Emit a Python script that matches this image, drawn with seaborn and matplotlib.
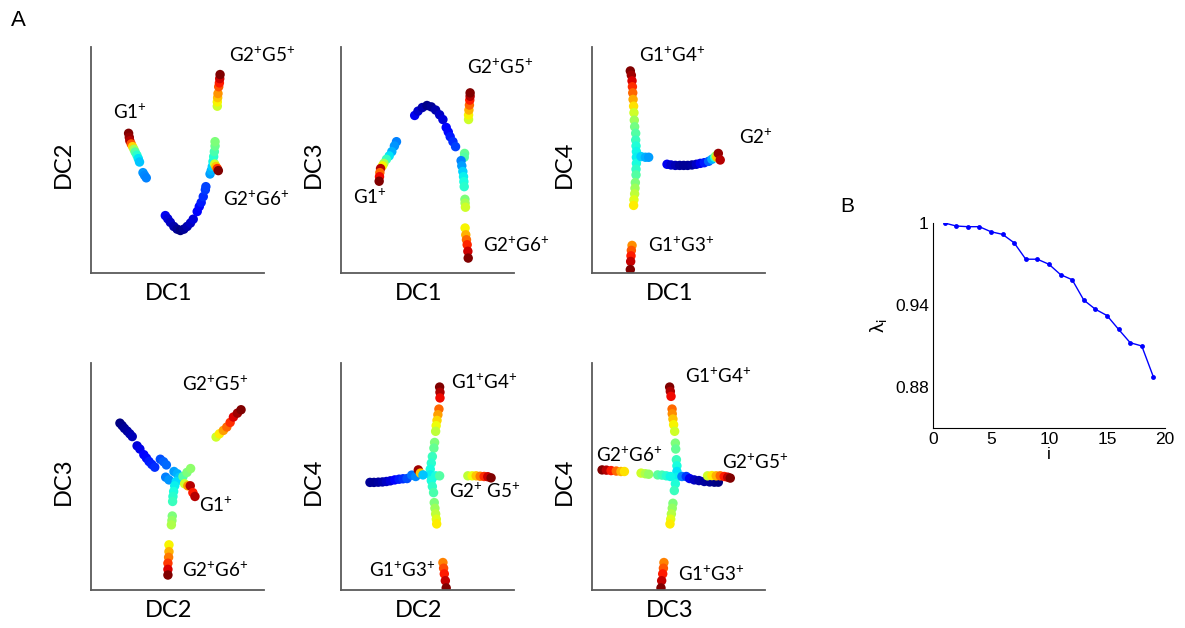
import numpy as np
import pandas as pd
import matplotlib
matplotlib.use("Agg")
import matplotlib.pyplot as plt
import seaborn as sns

# ---------------- data ----------------
# Panel 1: DC1 vs DC2
p1_x = [21.7, 22.1, 22.4, 23.2, 24.0, 24.8, 25.5, 26.5, 27.3, 28.0, 30.0, 30.9, 31.9,
        42.9, 44.3, 45.8, 47.8, 49.7, 51.6, 53.6, 55.5, 57.4, 59.0,
        61.3, 62.5, 63.6, 64.8, 66.0, 66.3,
        68.7, 69.4, 70.0, 70.4, 70.8, 71.2, 71.6, 71.6,
        71.4, 72.1, 72.9, 73.5,
        72.9, 72.9, 73.1, 73.3, 73.7, 74.1, 74.3, 74.5]
p1_y = [61.8, 60.0, 58.5, 57.1, 55.9, 54.7, 53.5, 52.1, 50.6, 49.1, 44.4, 43.2, 42.1,
        25.4, 24.0, 22.4, 20.6, 19.4, 18.8, 19.4, 20.6, 22.1, 23.8,
        27.2, 29.4, 31.2, 33.8, 36.8, 38.2,
        43.8, 45.3, 47.1, 49.3, 51.5, 53.7, 56.2, 58.1,
        48.2, 47.1, 46.2, 45.3,
        73.8, 75.7, 77.6, 79.4, 82.4, 84.1, 86.0, 87.8]
p1_c = [1.0, 0.98, 0.95, 0.82, 0.68, 0.55, 0.45, 0.40, 0.35, 0.32, 0.27, 0.26, 0.25,
        0.10, 0.08, 0.06, 0.04, 0.02, 0.0, 0.02, 0.04, 0.06, 0.08,
        0.12, 0.13, 0.15, 0.17, 0.18, 0.19,
        0.28, 0.30, 0.33, 0.37, 0.40, 0.44, 0.48, 0.50,
        0.60, 0.70, 0.85, 1.0,
        0.60, 0.65, 0.70, 0.75, 0.82, 0.88, 0.93, 1.0]

# Panel 2: DC1 vs DC3
p2_x = [32.0, 30.8, 29.3, 27.8, 26.2, 24.7, 23.9, 22.8, 22.4, 22.2, 22.0,
        42.5, 44.4, 46.9, 49.6, 52.1, 54.6, 56.9, 58.8, 60.7, 61.9, 63.0, 64.6, 66.1,
        71.3, 71.1, 69.3, 69.7, 70.3, 70.7, 70.9, 71.1, 71.5, 71.6, 71.8,
        71.6, 72.0, 72.4, 72.8, 73.2, 73.4,
        73.6, 73.6, 73.8, 74.1, 74.3, 74.5, 74.5]
p2_y = [58.1, 56.2, 53.7, 51.8, 50.3, 48.5, 47.4, 46.2, 44.4, 42.6, 40.6,
        69.7, 71.6, 73.2, 74.1, 73.5, 72.1, 70.0, 67.9, 64.4, 62.4, 60.3, 58.1, 55.9,
        52.9, 51.2, 49.7, 47.4, 44.9, 42.6, 40.4, 38.2, 32.6, 30.9, 29.1,
        19.9, 16.9, 14.7, 12.5, 9.6, 6.6,
        67.9, 69.9, 72.1, 74.3, 76.5, 78.2, 79.7]
p2_c = [0.25, 0.27, 0.30, 0.35, 0.42, 0.55, 0.65, 0.95, 0.80, 0.90, 1.0,
        0.10, 0.07, 0.04, 0.01, 0.02, 0.04, 0.06, 0.08, 0.11, 0.13, 0.15, 0.17, 0.19,
        0.47, 0.45, 0.25, 0.28, 0.33, 0.36, 0.38, 0.40, 0.50, 0.55, 0.60,
        0.65, 0.72, 0.80, 0.87, 0.93, 1.0,
        0.60, 0.65, 0.72, 0.80, 0.88, 0.95, 1.0]

# Panel 3: DC1 vs DC4
p3_x = [22.1, 22.7, 23.1, 23.3, 23.5, 23.7, 24.0, 24.2, 24.4, 24.6, 25.2, 25.2, 25.4, 25.6,
        25.6, 25.6, 25.4, 25.4, 25.0, 24.8, 24.6, 24.2, 24.0,
        28.3, 30.8, 32.7,
        23.1, 22.7, 22.5, 22.3, 22.1,
        43.3, 45.6, 48.1, 50.6, 52.9, 55.2, 57.7, 60.2, 62.5, 64.8, 67.3, 69.2, 70.8,
        71.5, 72.1, 72.9, 74.0]
p3_y = [89.4, 87.5, 85.0, 82.4, 79.7, 76.8, 73.8, 70.9, 67.6, 64.7, 61.8, 58.8, 56.2, 53.7,
        51.2, 48.5, 45.9, 43.4, 40.0, 37.5, 35.0, 32.4, 29.9,
        51.5, 51.2, 51.2,
        12.2, 10.0, 7.6, 5.1, 1.5,
        48.1, 47.8, 47.6, 47.6, 47.6, 47.6, 47.8, 48.1, 48.5, 48.8, 49.4, 50.3, 51.2,
        51.8, 51.2, 52.9, 50.0]
p3_c = [1.0, 0.97, 0.92, 0.86, 0.80, 0.73, 0.67, 0.60, 0.54, 0.49, 0.45, 0.42, 0.39, 0.37,
        0.36, 0.38, 0.41, 0.45, 0.50, 0.54, 0.58, 0.62, 0.66,
        0.33, 0.30, 0.28,
        0.76, 0.82, 0.88, 0.94, 1.0,
        0.10, 0.07, 0.05, 0.03, 0.02, 0.02, 0.03, 0.06, 0.10, 0.15, 0.22, 0.30, 0.40,
        0.55, 0.70, 0.98, 0.95]

# Panel 4: DC2 vs DC3
p4_x = [16.7, 18.0, 19.3, 20.9, 22.4, 23.8, 26.6, 28.2, 30.5, 32.0, 33.5, 35.1, 36.8,
        40.0, 41.9, 43.5, 43.1, 45.0, 47.9, 49.8, 51.1, 49.2, 48.3, 47.7, 47.3, 47.1,
        53.1, 55.4, 57.5,
        54.0, 55.9, 57.3, 58.8, 60.0,
        46.9, 46.7, 46.4, 45.0, 45.0, 44.8, 44.4, 44.4, 44.4,
        72.2, 74.1, 76.4, 78.4, 80.3, 82.2, 84.5, 86.6]
p4_y = [73.5, 72.4, 71.2, 70.0, 68.8, 67.6, 63.5, 62.1, 59.6, 58.1, 56.6, 55.3, 54.1,
        57.6, 56.5, 55.1, 49.7, 48.5, 52.2, 51.2, 49.7, 47.8, 45.9, 43.4, 41.2, 39.0,
        50.0, 51.8, 53.5,
        46.8, 45.9, 45.9, 42.9, 41.2,
        32.6, 30.6, 28.7, 19.9, 16.9, 14.4, 11.8, 9.1, 6.6,
        67.4, 68.8, 70.3, 71.8, 73.8, 76.2, 77.9, 79.4]
p4_c = [0.0, 0.01, 0.02, 0.03, 0.04, 0.05, 0.08, 0.09, 0.12, 0.13, 0.15, 0.16, 0.17,
        0.20, 0.22, 0.23, 0.25, 0.27, 0.28, 0.30, 0.32, 0.34, 0.36, 0.38, 0.40, 0.42,
        0.45, 0.50, 0.52,
        0.60, 0.75, 0.95, 0.88, 0.95,
        0.50, 0.53, 0.56, 0.65, 0.72, 0.78, 0.85, 0.92, 1.0,
        0.60, 0.66, 0.74, 0.80, 0.86, 0.92, 0.97, 1.0]

# Panel 5: DC2 vs DC4
p5_x = [56.9, 57.1, 57.1, 56.5, 55.9, 55.4, 54.9, 54.6, 54.0, 53.6, 52.7, 52.1, 51.5, 51.5,
        52.1, 52.7, 53.4, 53.8, 54.2, 54.6, 55.0, 55.2,
        58.8, 59.2, 59.6, 60.2, 60.7,
        16.7, 19.0, 21.5, 23.9, 26.2, 28.5, 31.0, 33.5, 35.8, 38.1, 40.8, 43.1, 44.6, 45.8, 47.3,
        54.6, 56.9, 73.2, 75.7, 78.0, 80.3, 82.6, 84.7, 86.6]
p5_y = [89.4, 87.1, 84.6, 79.7, 77.2, 74.7, 72.4, 69.9, 65.0, 62.5, 58.8, 55.9, 53.2, 50.7,
        48.2, 45.6, 42.9, 38.5, 36.0, 33.5, 31.2, 29.1,
        12.1, 9.6, 7.1, 4.1, 0.9,
        47.4, 47.4, 47.5, 47.6, 47.8, 48.1, 48.5, 48.8, 49.0, 49.1, 50.6, 50.0, 52.9, 51.5, 50.7,
        50.3, 50.3, 50.3, 50.3, 50.3, 50.1, 50.0, 49.9, 49.4]
p5_c = [1.0, 0.96, 0.90, 0.80, 0.74, 0.68, 0.64, 0.58, 0.50, 0.47, 0.42, 0.40, 0.38, 0.36,
        0.38, 0.41, 0.44, 0.50, 0.54, 0.58, 0.62, 0.66,
        0.77, 0.83, 0.88, 0.94, 1.0,
        0.02, 0.02, 0.03, 0.04, 0.06, 0.08, 0.12, 0.15, 0.17, 0.20, 0.24, 0.26, 0.97, 0.70, 0.32,
        0.38, 0.45, 0.58, 0.64, 0.70, 0.78, 0.86, 0.93, 1.0]

# Panel 6: DC3 vs DC4
p6_x = [44.8, 45.2, 45.6, 46.2, 46.3, 46.7, 47.1, 47.7, 48.1, 48.3, 48.7, 49.0, 49.0, 48.7,
        48.1, 47.5, 46.7, 46.3, 45.8, 45.4, 45.0,
        41.5, 41.2, 40.8, 40.2, 39.8,
        5.8, 8.3, 11.0, 14.0, 16.7, 18.7, 28.3, 30.8, 32.7, 37.9, 40.4, 42.9, 45.2,
        51.9, 54.4, 56.3, 59.0, 61.7, 64.8, 67.9, 70.6, 72.9,
        66.7, 69.2, 71.7, 74.0, 76.3, 78.3, 79.8]
p6_y = [89.4, 87.5, 85.3, 79.7, 77.6, 75.3, 72.8, 69.9, 64.7, 62.1, 57.4, 54.7, 52.2, 49.7,
        46.8, 43.8, 38.2, 36.0, 33.5, 31.2, 29.1,
        12.1, 9.6, 7.1, 4.1, 0.9,
        52.9, 52.8, 52.6, 52.4, 52.2, 52.2, 51.5, 51.2, 51.0, 50.7, 50.6, 50.3, 50.0,
        50.0, 50.0, 49.1, 48.5, 48.2, 47.8, 47.6, 47.5, 47.5,
        50.3, 50.4, 50.3, 50.3, 50.0, 49.7, 49.3]
p6_c = [1.0, 0.96, 0.90, 0.80, 0.76, 0.70, 0.65, 0.60, 0.50, 0.47, 0.42, 0.38, 0.35, 0.36,
        0.39, 0.42, 0.50, 0.53, 0.57, 0.62, 0.66,
        0.77, 0.82, 0.88, 0.94, 1.0,
        1.0, 0.95, 0.88, 0.80, 0.72, 0.67, 0.60, 0.56, 0.53, 0.46, 0.43, 0.40, 0.37,
        0.25, 0.18, 0.10, 0.06, 0.04, 0.03, 0.02, 0.01, 0.0,
        0.60, 0.66, 0.72, 0.80, 0.88, 0.94, 1.0]

# axis labels of the six scatter panels
x_labels = ["DC1", "DC1", "DC1", "DC2", "DC2", "DC3"]
y_labels = ["DC2", "DC3", "DC4", "DC3", "DC4", "DC4"]

# branch annotations per panel: (text, x-frac, y-frac)
p1_notes = [("G1$^{+}$", 0.126, 0.709), ("G2$^{+}$G5$^{+}$", 0.797, 0.962), ("G2$^{+}$G6$^{+}$", 0.760, 0.326)]
p2_notes = [("G2$^{+}$G5$^{+}$", 0.726, 0.910), ("G1$^{+}$", 0.071, 0.335), ("G2$^{+}$G6$^{+}$", 0.818, 0.124)]
p3_notes = [("G1$^{+}$G4$^{+}$", 0.273, 0.962), ("G2$^{+}$", 0.846, 0.600), ("G1$^{+}$G3$^{+}$", 0.325, 0.121)]
p4_notes = [("G2$^{+}$G5$^{+}$", 0.527, 0.907), ("G1$^{+}$", 0.626, 0.374), ("G2$^{+}$G6$^{+}$", 0.527, 0.085)]
p5_notes = [("G1$^{+}$G4$^{+}$", 0.636, 0.915), ("G2$^{+}$ G5$^{+}$", 0.623, 0.433), ("G1$^{+}$G3$^{+}$", 0.163, 0.085)]
p6_notes = [("G1$^{+}$G4$^{+}$", 0.538, 0.940), ("G2$^{+}$G6$^{+}$", 0.023, 0.595),
            ("G2$^{+}$G5$^{+}$", 0.750, 0.563), ("G1$^{+}$G3$^{+}$", 0.499, 0.070)]

# Panel B: eigenvalues
eig_i = [1, 2, 3, 4, 5, 6, 7, 8, 9, 10, 11, 12, 13, 14, 15, 16, 17, 18, 19]
eig_lambda = [1.0, 0.9978, 0.9973, 0.9973, 0.9936, 0.9917, 0.9855, 0.9735, 0.9735, 0.9698,
              0.9622, 0.9585, 0.9436, 0.9369, 0.9323, 0.9222, 0.9124, 0.9100, 0.8874]
b_xticks = [0, 5, 10, 15, 20]
b_yticks = [0.88, 0.94, 1.0]
b_yticklabels = ["0.88", "0.94", "1"]

# ---------------- styling ----------------
sns.set_theme(style="white")
plt.rcParams["font.family"] = ["Lato", "DejaVu Sans"]
plt.rcParams["mathtext.fontset"] = "custom"
plt.rcParams["mathtext.rm"] = "Lato"
plt.rcParams["mathtext.it"] = "Lato:italic"
plt.rcParams["mathtext.bf"] = "Lato:bold"
plt.rcParams["text.color"] = "black"
plt.rcParams["axes.labelcolor"] = "black"
plt.rcParams["xtick.color"] = "black"
plt.rcParams["ytick.color"] = "black"

jet = matplotlib.colormaps["jet"]

fig = plt.figure(figsize=(11.85, 6.28), dpi=100)
fig.patch.set_facecolor("white")

W = 0.1462
H_top = 0.3599
H_bot = 0.3615
rects = [
    [0.0768, 0.5653, W, H_top],
    [0.2878, 0.5653, W, H_top],
    [0.4996, 0.5653, W, H_top],
    [0.0768, 0.0605, W, H_bot],
    [0.2878, 0.0605, W, H_bot],
    [0.4996, 0.0605, W, H_bot],
]
panels = [(p1_x, p1_y, p1_c, p1_notes), (p2_x, p2_y, p2_c, p2_notes),
          (p3_x, p3_y, p3_c, p3_notes), (p4_x, p4_y, p4_c, p4_notes),
          (p5_x, p5_y, p5_c, p5_notes), (p6_x, p6_y, p6_c, p6_notes)]

spine_col = "#5a5a5a"
for k, (px, py, pc, notes) in enumerate(panels):
    ax = fig.add_axes(rects[k])
    df = pd.DataFrame({"x": px, "y": py, "c": pc})
    sns.scatterplot(data=df, x="x", y="y", hue="c", palette=jet, hue_norm=(0, 1),
                    s=46, linewidth=0, legend=False, ax=ax)
    ax.set_xlim(0, 100)
    ax.set_ylim(0, 100)
    ax.set_xticks([])
    ax.set_yticks([])
    ax.set_facecolor("white")
    for side in ("top", "right"):
        ax.spines[side].set_visible(False)
    for side in ("left", "bottom"):
        ax.spines[side].set_color(spine_col)
        ax.spines[side].set_linewidth(1.3)
    ax.set_xlabel(x_labels[k], fontsize=17, color="black")
    ax.set_ylabel(y_labels[k], fontsize=17, color="black")
    ax.xaxis.set_label_coords(0.45, -0.046)
    ax.yaxis.set_label_coords(-0.10, 0.48)
    for txt, fx, fy in notes:
        ax.text(fx, fy, txt, transform=ax.transAxes, fontsize=13.5, ha="left",
                va="center", color="black", clip_on=False)

# ---------------- panel B ----------------
axb = fig.add_axes([0.7873, 0.3185, 0.1958, 0.3264])
dfb = pd.DataFrame({"i": eig_i, "lam": eig_lambda})
sns.lineplot(data=dfb, x="i", y="lam", color="#0000ff", marker="o", markersize=3.5,
             markeredgewidth=0, linewidth=1.0, ax=axb)
axb.set_xlim(0, 20)
axb.set_ylim(0.85, 1.0)
axb.set_xticks(b_xticks)
axb.set_xticklabels([str(v) for v in b_xticks])
axb.set_yticks(b_yticks)
axb.set_yticklabels(b_yticklabels)
axb.tick_params(direction="in", length=3, width=0.8, labelsize=12.5, colors="black", pad=3)
for lab in axb.get_xticklabels() + axb.get_yticklabels():
    lab.set_fontfamily("Liberation Sans")
for side in ("top", "right"):
    axb.spines[side].set_visible(False)
for side in ("left", "bottom"):
    axb.spines[side].set_color("black")
    axb.spines[side].set_linewidth(0.8)
axb.set_facecolor("white")
axb.set_xlabel("i", fontsize=12.5, family="Liberation Sans", labelpad=0)
axb.set_ylabel(r"$\mathregular{\lambda_i}$", fontsize=14, labelpad=4)

fig.text(18 / 1185, 1 - 20 / 628, "A", fontsize=16, family="Liberation Sans",
         ha="center", va="center", color="black")
fig.text(847 / 1185, 1 - 206 / 628, "B", fontsize=15, family="Liberation Sans",
         ha="center", va="center", color="black")

fig.savefig("out.png", dpi=100, facecolor="white")
